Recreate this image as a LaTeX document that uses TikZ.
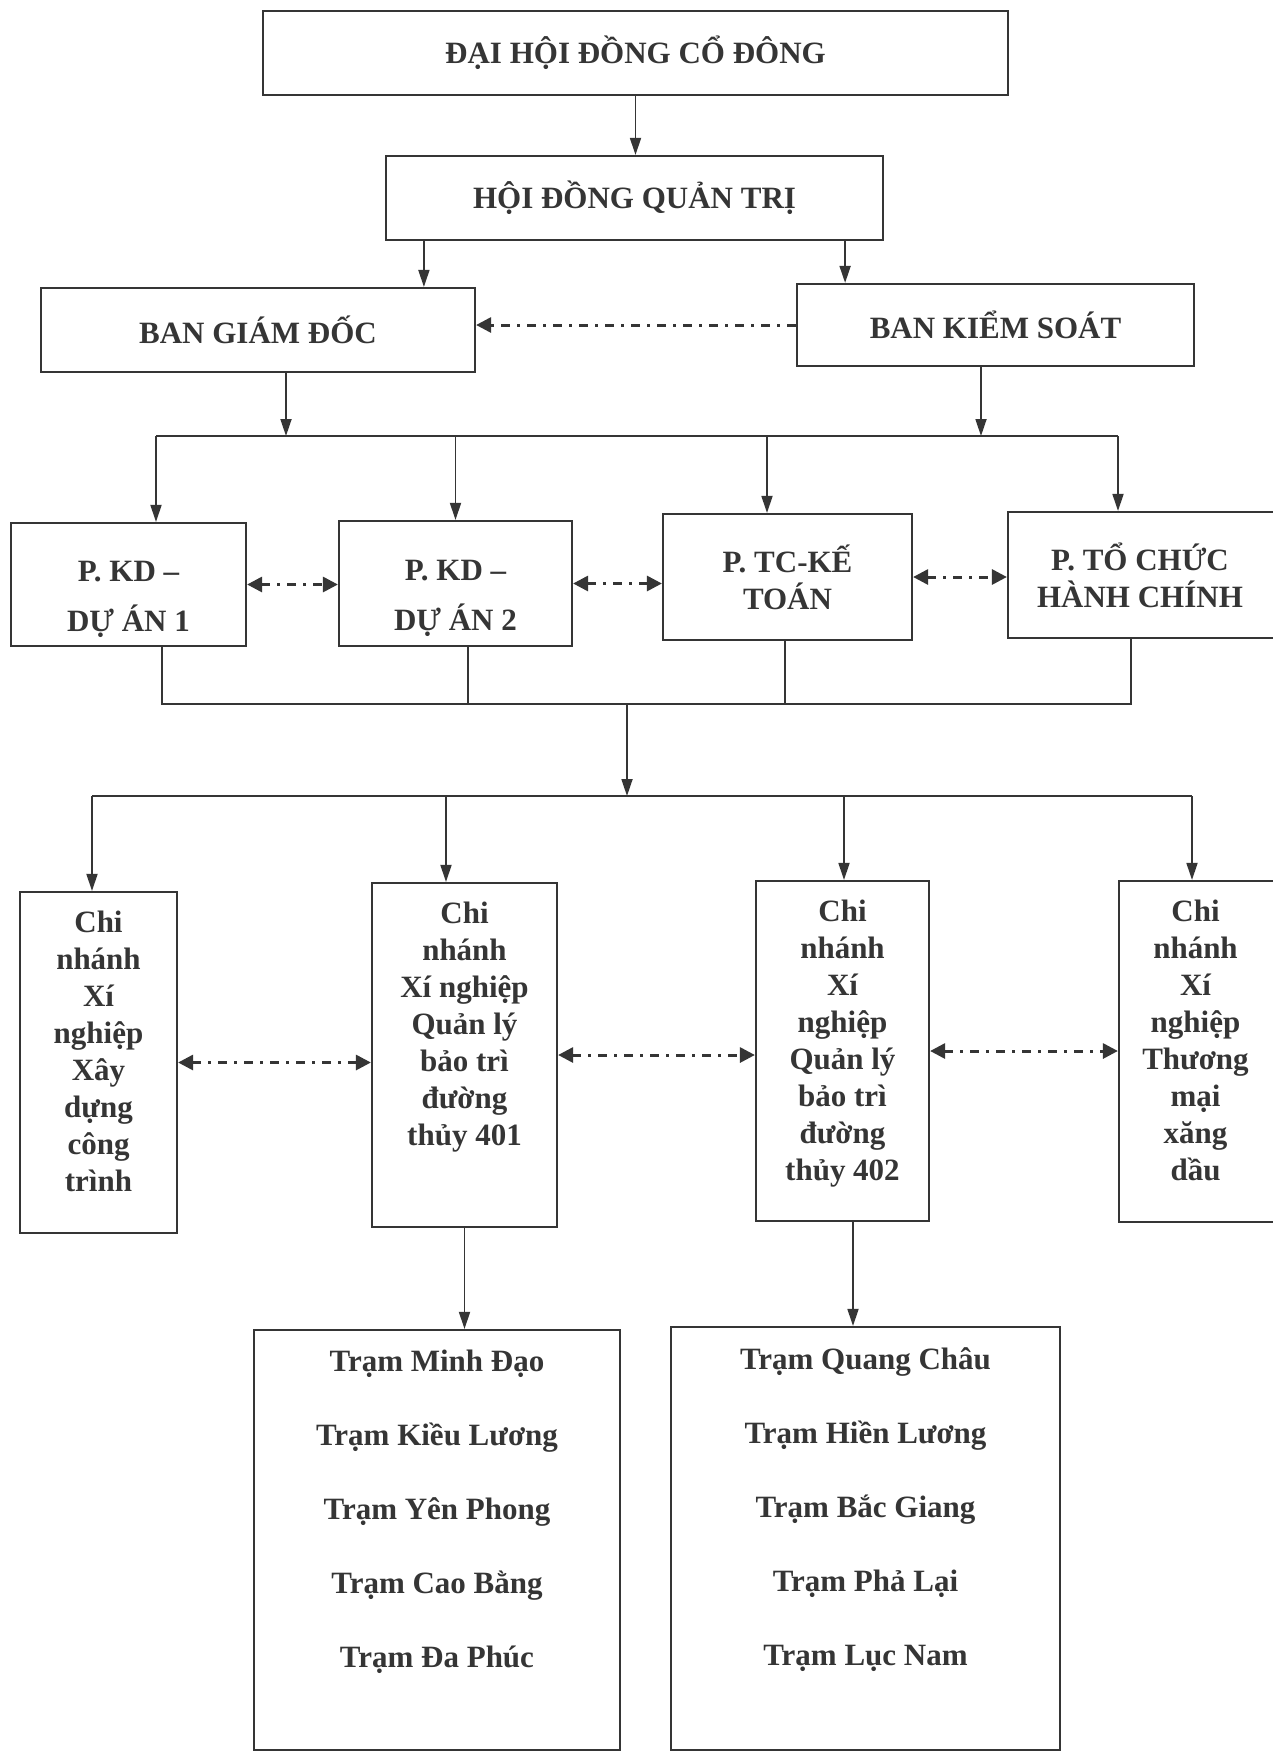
\documentclass[tikz,border=0pt]{standalone}
\usepackage{fontspec}
\setmainfont{Liberation Serif}
\usetikzlibrary{arrows.meta,calc}
\definecolor{ink}{HTML}{353535}
\begin{document}
\begin{tikzpicture}[x=1pt,y=-1pt,
  box/.style={draw=ink, line width=2.2pt, inner sep=0pt, align=center, text=ink,
    font=\bfseries\fontsize{31}{37}\selectfont},
  stbox/.style={box, font=\bfseries\fontsize{31}{74}\selectfont},
  lnk/.style={draw=ink, line width=1.8pt},
  arr/.style={lnk, -{Triangle[length=17pt,width=11pt]}},
  dtip/.style={Triangle[length=15pt,width=15pt]},
  dd/.style={draw=ink, line width=3pt, dash pattern=on 9pt off 7pt on 3pt off 7pt,
    {Triangle[length=15pt,width=15pt]}-{Triangle[length=15pt,width=15pt]}},
  dd1/.style={draw=ink, line width=3pt, dash pattern=on 9pt off 7pt on 3pt off 7pt,
    -{Triangle[length=15pt,width=15pt]}}]
\useasboundingbox[fill=white] (0,0) rectangle (1272,1753);

% top levels
\node[box, minimum width=745pt, minimum height=84pt] (dh) at (635.5,53) {ĐẠI HỘI ĐỒNG CỔ ĐÔNG};
\node[box, minimum width=497pt, minimum height=84pt] (hd) at (634.5,198) {HỘI ĐỒNG QUẢN TRỊ};
\node[box, minimum width=434pt, minimum height=84pt] (bgd) at (258,330) {BAN GIÁM ĐỐC};
\node[box, minimum width=397pt, minimum height=82pt] (bks) at (995.5,325) {BAN KIỂM SOÁT};

% departments
\node[box, minimum width=235pt, minimum height=123pt] (p1) at (128.5,584.5) {\rule{0pt}{50pt}P. KD –\\[13pt]DỰ ÁN 1};
\node[box, minimum width=233pt, minimum height=125pt] (p2) at (455.5,583.5) {\rule{0pt}{50pt}P. KD –\\[13pt]DỰ ÁN 2};
\node[box, minimum width=249pt, minimum height=126pt] (p3) at (787.5,577) {P. TC-KẾ\\TOÁN};
\node[box, minimum width=272pt, minimum height=126pt] (p4) at (1144,575) {\hspace*{-8pt}P. TỔ CHỨC\\\hspace*{-8pt}HÀNH CHÍNH};

% branches
\node[box, minimum width=157pt, minimum height=341pt] (c1) at (98.5,1062.5)
  {Chi\\nhánh\\Xí\\nghiệp\\Xây\\dựng\\công\\trình\\[-15pt]\mbox{}};
\node[box, minimum width=185pt, minimum height=344pt] (c2) at (464.5,1055)
  {Chi\\nhánh\\Xí nghiệp\\Quản lý\\bảo trì\\đường\\thủy 401\\[25pt]\mbox{}};
\node[box, minimum width=173pt, minimum height=340pt] (c3) at (842.5,1051)
  {Chi\\nhánh\\Xí\\nghiệp\\Quản lý\\bảo trì\\đường\\thủy 402\\[-15pt]\mbox{}};
\node[box, minimum width=161pt, minimum height=341pt] (c4) at (1199.5,1051.5)
  {\hspace*{-8pt}Chi\\\hspace*{-8pt}nhánh\\\hspace*{-8pt}Xí\\\hspace*{-8pt}nghiệp\\\hspace*{-8pt}Thương\\\hspace*{-8pt}mại\\\hspace*{-8pt}xăng\\\hspace*{-8pt}dầu\\[-15pt]\mbox{}};

% stations
\node[stbox, minimum width=366pt, minimum height=420pt] (s1) at (437,1540)
  {Trạm Minh Đạo\\Trạm Kiều Lương\\Trạm Yên Phong\\Trạm Cao Bằng\\Trạm Đa Phúc\\[-11pt]\mbox{}};
\node[stbox, minimum width=389pt, minimum height=423pt] (s2) at (865.5,1538.5)
  {Trạm Quang Châu\\Trạm Hiền Lương\\Trạm Bắc Giang\\Trạm Phả Lại\\Trạm Lục Nam\\[-11pt]\mbox{}};

% connectors, top
\draw[arr] (dh.south) -- (dh.south |- hd.north);
\coordinate (h1) at ([xshift=39pt]hd.south west);
\coordinate (h2) at ([xshift=-39pt]hd.south east);
\draw[arr] (h1) -- (h1 |- bgd.north);
\draw[arr] (h2) -- (h2 |- bks.north);
\draw[dd1] (bks.west) -- (bks.west -| bgd.east);

% bus 1
\coordinate (b1L) at (156,436);
\coordinate (b1R) at (1118,436);
\draw[lnk] (b1L) -- (b1R);
\coordinate (g1) at ([xshift=28pt]bgd.south);
\coordinate (g2) at ([xshift=-14.5pt]bks.south);
\draw[arr] (g1) -- (g1 |- b1L);
\draw[arr] (g2) -- (g2 |- b1L);
\coordinate (d1) at (b1L |- p1.north);
\coordinate (d2) at (p2.north);
\coordinate (d3) at ([xshift=-20.5pt]p3.north);
\coordinate (d4) at (b1R |- p4.north);
\draw[arr] (b1L) -- (d1);
\draw[arr] (d2 |- b1L) -- (d2);
\draw[arr] (d3 |- b1L) -- (d3);
\draw[arr] (b1R) -- (d4);

\draw[dd] (p1.east) -- (p1.east -| p2.west);
\draw[dd] (p2.east) -- (p2.east -| p3.west);
\draw[dd] (p3.east) -- (p3.east -| p4.west);

% bus 2
\coordinate (b2) at (627,704);
\coordinate (u1) at ([xshift=33.5pt]p1.south);
\coordinate (u2) at ([xshift=12.5pt]p2.south);
\coordinate (u3) at ([xshift=-2.5pt]p3.south);
\coordinate (u4) at ([xshift=-13pt]p4.south);
\draw[lnk] (u1) -- (u1 |- b2) -- (u4 |- b2) -- (u4);
\draw[lnk] (u2) -- (u2 |- b2);
\draw[lnk] (u3) -- (u3 |- b2);

% bus 3
\coordinate (b3L) at (92,796);
\coordinate (b3R) at (1192,796);
\draw[arr] (b2) -- (b2 |- b3L);
\draw[lnk] (b3L) -- (b3R);
\coordinate (e1) at ([xshift=-6.5pt]c1.north);
\coordinate (e2) at ([xshift=-18.5pt]c2.north);
\coordinate (e3) at ([xshift=1.5pt]c3.north);
\coordinate (e4) at (b3R |- c4.north);
\draw[arr] (e1 |- b3L) -- (e1);
\draw[arr] (e2 |- b3L) -- (e2);
\draw[arr] (e3 |- b3L) -- (e3);
\draw[arr] (b3R) -- (e4);

\draw[dd] (c1.east) -- (c1.east -| c2.west);
\draw[dd] (c2.east) -- (c2.east -| c3.west);
\draw[dd] (c3.east) -- (c3.east -| c4.west);

% to stations
\draw[arr] (c2.south) -- (c2.south |- s1.north);
\coordinate (f3) at ([xshift=10.5pt]c3.south);
\draw[arr] (f3) -- (f3 |- s2.north);
\end{tikzpicture}
\end{document}
